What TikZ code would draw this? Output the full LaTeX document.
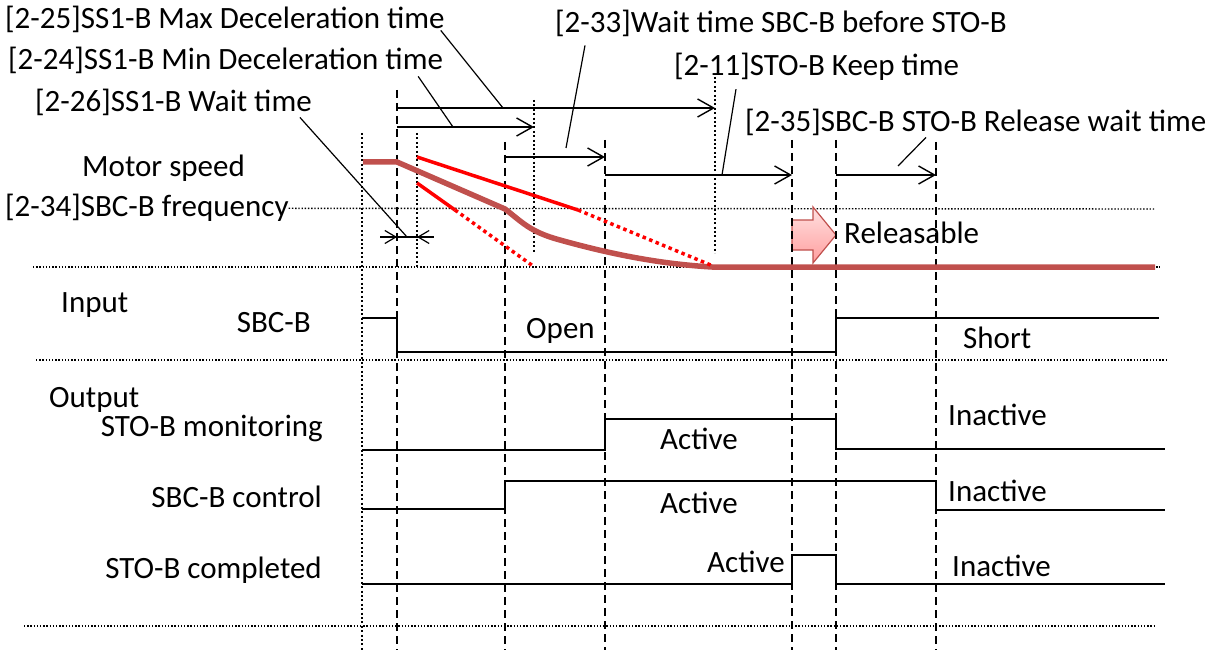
\documentclass[tikz,border=0pt]{standalone}
\usepackage{fontspec}
\setmainfont{Carlito}
\usetikzlibrary{arrows.meta}

\definecolor{speedcolor}{RGB}{192,80,77}
\definecolor{limitcolor}{RGB}{255,0,0}

\begin{document}
\begin{tikzpicture}[
    x=1pt, y=-1pt,
    font=\fontsize{31}{37}\selectfont,
    %% Time instants:  x = 362 397 417 505 534 605 715 792 836 936
    %% Signal rows:    y = 318/352  419/450  481/510  555/584
    lbl/.style={inner sep=0pt, anchor=base west},
    rlbl/.style={inner sep=0pt, anchor=base east},
    sig/.style={line width=1.8pt, black},
    tick/.style={line width=1.7pt, dash pattern=on 8pt off 5pt},
    dotv/.style={line width=2pt, dash pattern=on 2pt off 2.4pt},
    doth/.style={line width=1.4pt, dash pattern=on 1.4pt off 1.8pt},
    span/.style={line width=1.4pt, -{Straight Barb[length=16pt,width=18pt]}},
    leader/.style={line width=1.2pt},
    speed/.style={line width=5.5pt, speedcolor},
    limit/.style={line width=3.5pt, limitcolor},
    limitdot/.style={limit, dash pattern=on 3.5pt off 3.5pt},
]
\useasboundingbox (0,0) rectangle (1219,650);

%% ── Parameter labels ─────────────────────────────────────────────────────
\node[lbl] (t25) at (5,29)    {[2-25]SS1-B Max Deceleration time};
\node[lbl] (t24) at (8,70)    {[2-24]SS1-B Min Deceleration time};
\node[lbl] (t26) at (35,112)  {[2-26]SS1-B Wait time};
\node[lbl] (t33) at (555,33)  {[2-33]Wait time SBC-B before STO-B};
\node[lbl] (t11) at (674,76)  {[2-11]STO-B Keep time};
\node[lbl] (t35) at (745,132) {[2-35]SBC-B STO-B Release wait time};
\node[lbl] (spd) at (82,177)  {Motor speed};
\node[lbl] (t34) at (5,217)   {[2-34]SBC-B frequency};

%% ── Grid lines ───────────────────────────────────────────────────────────
\draw[doth] (t34.east) -- (1155,209);
\draw[doth] (33,267)  -- (1160,267);
\draw[doth] (36,360)  -- (1167,360);
\draw[doth] (24,626)  -- (1155,626);

%% ── Releasable mark ──────────────────────────────────────────────────────
\shadedraw[top color=red!12, bottom color=red!38, draw=speedcolor, line width=1.2pt]
    (792,220) -- (813,220) -- (813,207) -- (836,235) -- (813,263)
    -- (813,250) -- (792,250) -- cycle;
\node[lbl] (rel) at (844,243) {Releasable};

%% ── Time instants ────────────────────────────────────────────────────────
\draw[dotv] (362,133) -- (362,650);
\draw[tick] (397,90)  -- (397,650);
\draw[dotv] (417,133) -- (417,267);
\draw[tick] (505,142) -- (505,650);
\draw[dotv] (534,100) -- (534,252);
\draw[tick] (605,140) -- (605,650);
\draw[dotv] (715,77)  -- (715,253);
\draw[tick] (792,140) -- (792,650);
\draw[tick] (836,140) -- (836,650);
\draw[tick] (936,142) -- (936,650);

%% ── Time spans ───────────────────────────────────────────────────────────
\draw[span] (397,108) -- (715,108);
\draw[span] (397,127) -- (534,127);
\draw[span] (505,157) -- (605,157);
\draw[span] (605,175) -- (792,175);
\draw[span] (836,175) -- (936,175);
\draw[leader] (380,237) -- (434,237);
\draw[leader, -{Straight Barb[length=11pt,width=13pt]}] (385,237) -- (397,237);
\draw[leader, -{Straight Barb[length=11pt,width=13pt]}] (429,237) -- (417,237);

\coordinate (p25) at (503,108);
\coordinate (p24) at (453,127);
\coordinate (p26) at (407,237);
\coordinate (p33) at (566,148);
\coordinate (p11) at (722,175);
\coordinate (p35) at (898,166);
\draw[leader] ([xshift=-4pt,yshift=3pt]t25.south east) -- (p25);
\draw[leader] ([xshift=-25pt,yshift=-2pt]t24.south east) -- (p24);
\draw[leader] ([xshift=-12pt,yshift=-1pt]t26.south east) -- (p26);
\draw[leader] ([xshift=30pt,yshift=-8pt]t33.south west) -- (p33);
\draw[leader] ([xshift=62pt,yshift=-8pt]t11.south west) -- (p11);
\draw[leader] ([xshift=181pt,yshift=-1pt]t35.south west) -- (p35);

%% ── Motor speed ──────────────────────────────────────────────────────────
\draw[speed] (363,162) -- (397,162) -- (505,209)
    .. controls (522,222) and (530,232) .. (560,240)
    .. controls (610,254) and (660,264) .. (712,267) -- (1155,267);
\draw[limit]    (417,157) -- (578,210);
\draw[limitdot] (578,210) -- (713,266);
\draw[limit]    (417,183) -- (455,210);
\draw[limitdot] (455,210) -- (533,266);

%% ── Input ────────────────────────────────────────────────────────────────
\node[lbl]  (inp)  at (61,312)  {Input};
\node[rlbl] (sbc)  at (311,332) {SBC-B};
\draw[sig] (362,318) -- (397,318) -- (397,352) -- (836,352) -- (836,318) -- (1159,318);
\node[lbl]  (open)  at (526,338) {Open};
\node[lbl]  (short) at (963,348) {Short};

%% ── Output ───────────────────────────────────────────────────────────────
\node[lbl]  (outp) at (49,407)  {Output};
\node[rlbl] (mon)  at (323,436) {STO-B monitoring};
\node[rlbl] (ctl)  at (322,507) {SBC-B control};
\node[rlbl] (cmp)  at (322,578) {STO-B completed};

\draw[sig] (362,450) -- (605,450) -- (605,419) -- (836,419) -- (836,449) -- (1165,449);
\draw[sig] (362,509) -- (505,509) -- (505,481) -- (936,481) -- (936,510) -- (1165,510);
\draw[sig] (362,584) -- (792,584) -- (792,555) -- (836,555) -- (836,584) -- (1165,584);

\node[lbl] (mona) at (660,449) {Active};
\node[lbl] (moni) at (948,425) {Inactive};
\node[lbl] (ctla) at (660,513) {Active};
\node[lbl] (ctli) at (948,501) {Inactive};
\node[lbl] (cmpa) at (707,572) {Active};
\node[lbl] (cmpi) at (952,576) {Inactive};

\end{tikzpicture}
\end{document}
